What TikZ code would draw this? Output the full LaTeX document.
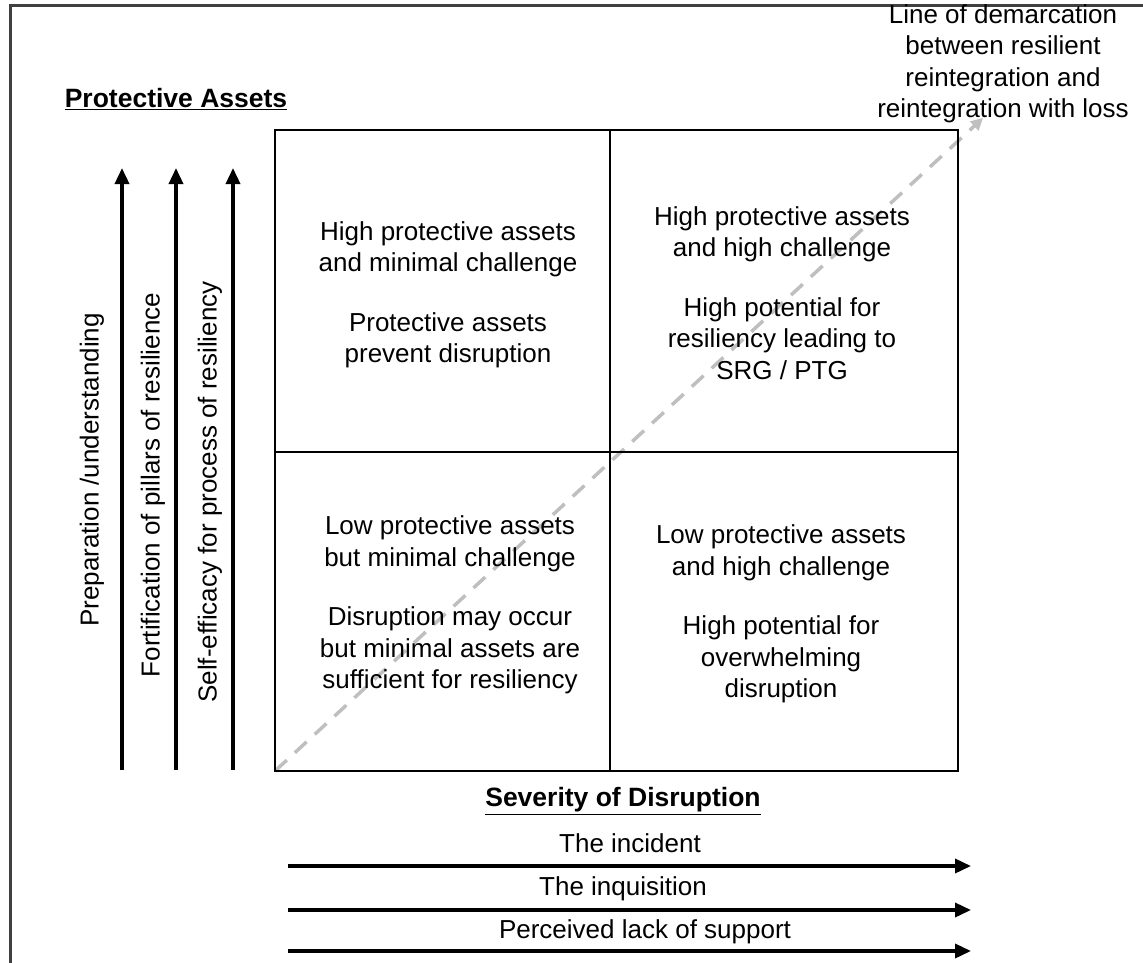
\documentclass[tikz,border=0pt]{standalone}
\usepackage{fontspec}
\setmainfont{Liberation Sans}
\usetikzlibrary{arrows.meta,positioning}

\begin{document}
\begin{tikzpicture}[x=1pt,y=-1pt,
  txt/.style={align=center,inner sep=0pt,font=\fontsize{26}{31.5}\selectfont},
  head/.style={inner sep=0pt,font=\fontsize{26.5}{30}\selectfont\bfseries},
  axis/.style={line width=3.5pt,-{Triangle[length=16pt,width=14pt]}},
  demarc/.style={line width=3.5pt,black!25,dash pattern=on 16pt off 11pt,-{Triangle[length=12pt,width=12pt]}},
  >=Stealth]
\useasboundingbox (0,0) rectangle (1143,963);
% frame
\draw[line width=3pt,black!75] (10,963) -- (10,6) -- (1143,6);

% the four quadrants
\coordinate (SW) at (275,771);
\coordinate (NE) at (958,130);
\coordinate (mt) at (610,130);
\coordinate (mb) at (610,771);
\coordinate (ml) at (275,452);
\coordinate (mr) at (958,452);
\coordinate (tip) at (983,118);
\draw[demarc] (SW) -- (tip);
\draw[line width=2.2pt] (SW) rectangle (NE);
\draw[line width=2.2pt] (mt) -- (mb);
\draw[line width=2.2pt] (ml) -- (mr);

\node[txt] (hm) at (448,295) {High protective assets\\and minimal challenge\\[28pt]Protective assets\\prevent disruption};
\node[txt] (hh) at (782,293) {High protective assets\\and high challenge\\[28pt]High potential for\\resiliency leading to\\SRG / PTG};
\node[txt] (lm) at (450,605) {Low protective assets\\but minimal challenge\\[28pt]Disruption may occur\\but minimal assets are\\sufficient for resiliency};
\node[txt] (lh) at (781,614) {Low protective assets\\and high challenge\\[28pt]High potential for\\overwhelming\\disruption};

\node[txt] (line) at (1003,64) {Line of demarcation\\between resilient\\reintegration and\\reintegration with loss};

% vertical axis
\node[head] (pa) at (176,99) {\underline{Protective Assets}};
\foreach \n/\x in {a/122,b/176,c/233}{
  \coordinate (\n0) at (\x,770);
  \coordinate (\n1) at (\x,168);
  \draw[axis] (\n0) -- (\n1);
}
\node[txt,rotate=90] (prep) at (92,470) {Preparation /understanding};
\node[txt,rotate=90] (fort) at (153,485) {Fortification of pillars of resilience};
\node[txt,rotate=90] (self) at (210,492) {Self-efficacy for process of resiliency};

% horizontal axis
\node[head] (sev) at (623,801) {\underline{Severity of Disruption}};
\foreach \n/\y in {d/866,e/910,f/951}{
  \coordinate (\n0) at (288,\y);
  \coordinate (\n1) at (971,\y);
  \draw[axis] (\n0) -- (\n1);
}
\node[txt] (inc) at (630,843) {The incident};
\node[txt] (inq) at (623,889) {The inquisition};
\node[txt] (lack) at (645,932) {Perceived lack of support};
\end{tikzpicture}
\end{document}
